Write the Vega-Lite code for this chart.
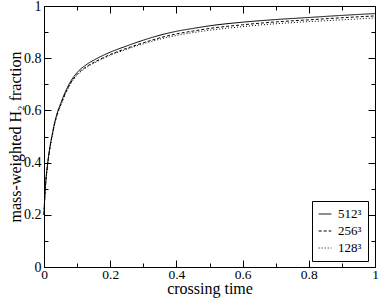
{
  "$schema": "https://vega.github.io/schema/vega-lite/v6.json",
  "width": 331,
  "height": 261,
  "autosize": {"type": "none"},
  "padding": {"left": 44, "top": 6, "right": 7, "bottom": 33},
  "background": "white",
  "data": {"values": [
    {"t": 0, "f": 0.20, "res": "512³"},
    {"t": 0.002, "f": 0.26, "res": "512³"},
    {"t": 0.005, "f": 0.32, "res": "512³"},
    {"t": 0.01, "f": 0.385, "res": "512³"},
    {"t": 0.015, "f": 0.435, "res": "512³"},
    {"t": 0.02, "f": 0.475, "res": "512³"},
    {"t": 0.026, "f": 0.515, "res": "512³"},
    {"t": 0.031, "f": 0.547, "res": "512³"},
    {"t": 0.04, "f": 0.59, "res": "512³"},
    {"t": 0.05, "f": 0.625, "res": "512³"},
    {"t": 0.056, "f": 0.645, "res": "512³"},
    {"t": 0.067, "f": 0.678, "res": "512³"},
    {"t": 0.08, "f": 0.71, "res": "512³"},
    {"t": 0.1, "f": 0.745, "res": "512³"},
    {"t": 0.13, "f": 0.777, "res": "512³"},
    {"t": 0.16, "f": 0.799, "res": "512³"},
    {"t": 0.2, "f": 0.823, "res": "512³"},
    {"t": 0.25, "f": 0.847, "res": "512³"},
    {"t": 0.3, "f": 0.869, "res": "512³"},
    {"t": 0.35, "f": 0.888, "res": "512³"},
    {"t": 0.4, "f": 0.903, "res": "512³"},
    {"t": 0.45, "f": 0.914, "res": "512³"},
    {"t": 0.5, "f": 0.924, "res": "512³"},
    {"t": 0.6, "f": 0.938, "res": "512³"},
    {"t": 0.7, "f": 0.948, "res": "512³"},
    {"t": 0.8, "f": 0.956, "res": "512³"},
    {"t": 0.9, "f": 0.964, "res": "512³"},
    {"t": 1.0, "f": 0.971, "res": "512³"},
    {"t": 0, "f": 0.20, "res": "256³"},
    {"t": 0.002, "f": 0.26, "res": "256³"},
    {"t": 0.005, "f": 0.32, "res": "256³"},
    {"t": 0.01, "f": 0.384, "res": "256³"},
    {"t": 0.015, "f": 0.433, "res": "256³"},
    {"t": 0.02, "f": 0.473, "res": "256³"},
    {"t": 0.026, "f": 0.512, "res": "256³"},
    {"t": 0.031, "f": 0.543, "res": "256³"},
    {"t": 0.04, "f": 0.586, "res": "256³"},
    {"t": 0.05, "f": 0.620, "res": "256³"},
    {"t": 0.056, "f": 0.640, "res": "256³"},
    {"t": 0.067, "f": 0.672, "res": "256³"},
    {"t": 0.08, "f": 0.704, "res": "256³"},
    {"t": 0.1, "f": 0.738, "res": "256³"},
    {"t": 0.13, "f": 0.769, "res": "256³"},
    {"t": 0.16, "f": 0.790, "res": "256³"},
    {"t": 0.2, "f": 0.814, "res": "256³"},
    {"t": 0.25, "f": 0.838, "res": "256³"},
    {"t": 0.3, "f": 0.859, "res": "256³"},
    {"t": 0.35, "f": 0.878, "res": "256³"},
    {"t": 0.4, "f": 0.893, "res": "256³"},
    {"t": 0.45, "f": 0.904, "res": "256³"},
    {"t": 0.5, "f": 0.914, "res": "256³"},
    {"t": 0.6, "f": 0.928, "res": "256³"},
    {"t": 0.7, "f": 0.939, "res": "256³"},
    {"t": 0.8, "f": 0.947, "res": "256³"},
    {"t": 0.9, "f": 0.955, "res": "256³"},
    {"t": 1.0, "f": 0.962, "res": "256³"},
    {"t": 0, "f": 0.20, "res": "128³"},
    {"t": 0.002, "f": 0.26, "res": "128³"},
    {"t": 0.005, "f": 0.319, "res": "128³"},
    {"t": 0.01, "f": 0.383, "res": "128³"},
    {"t": 0.015, "f": 0.432, "res": "128³"},
    {"t": 0.02, "f": 0.471, "res": "128³"},
    {"t": 0.026, "f": 0.510, "res": "128³"},
    {"t": 0.031, "f": 0.541, "res": "128³"},
    {"t": 0.04, "f": 0.583, "res": "128³"},
    {"t": 0.05, "f": 0.617, "res": "128³"},
    {"t": 0.056, "f": 0.637, "res": "128³"},
    {"t": 0.067, "f": 0.669, "res": "128³"},
    {"t": 0.08, "f": 0.701, "res": "128³"},
    {"t": 0.1, "f": 0.735, "res": "128³"},
    {"t": 0.13, "f": 0.766, "res": "128³"},
    {"t": 0.16, "f": 0.787, "res": "128³"},
    {"t": 0.2, "f": 0.811, "res": "128³"},
    {"t": 0.25, "f": 0.834, "res": "128³"},
    {"t": 0.3, "f": 0.855, "res": "128³"},
    {"t": 0.35, "f": 0.873, "res": "128³"},
    {"t": 0.4, "f": 0.887, "res": "128³"},
    {"t": 0.45, "f": 0.898, "res": "128³"},
    {"t": 0.5, "f": 0.907, "res": "128³"},
    {"t": 0.6, "f": 0.921, "res": "128³"},
    {"t": 0.7, "f": 0.932, "res": "128³"},
    {"t": 0.8, "f": 0.940, "res": "128³"},
    {"t": 0.9, "f": 0.947, "res": "128³"},
    {"t": 1.0, "f": 0.954, "res": "128³"}
  ]},
  "layer": [
    {
      "mark": {"type": "line", "color": "black", "strokeWidth": 1, "interpolate": "monotone"},
      "encoding": {
        "x": {"field": "t", "type": "quantitative", "scale": {"domain": [0, 1], "nice": false, "zero": false},
          "axis": {"orient": "bottom", "title": "crossing time", "values": [0,0.1,0.2,0.3,0.4,0.5,0.6,0.7,0.8,0.9,1],
            "format": ".1~f", "labelExpr": "round(datum.value*10)%2==0 ? datum.label : ''",
            "tickSize": {"condition": {"test": "round(datum.value*10)%2==0", "value": -7}, "value": -4},
            "labelFontSize": 13.5, "labelPadding": 7, "titlePadding": -3, "labelFlush": false, "labelOverlap": false}},
        "y": {"field": "f", "type": "quantitative", "scale": {"domain": [0, 1], "nice": false, "zero": false},
          "axis": {"orient": "left", "title": "mass-weighted H₂ fraction", "values": [0,0.1,0.2,0.3,0.4,0.5,0.6,0.7,0.8,0.9,1],
            "format": ".1~f", "labelExpr": "round(datum.value*10)%2==0 ? datum.label : ''",
            "tickSize": {"condition": {"test": "round(datum.value*10)%2==0", "value": -7}, "value": -4},
            "labelPadding": 10, "titlePadding": 0, "labelFlush": false, "labelOverlap": false}},
        "strokeDash": {"field": "res", "type": "nominal",
          "scale": {"domain": ["512³", "256³", "128³"], "range": [[1, 0], [3, 2], [1, 2]]},
          "legend": {"title": null, "orient": "none", "legendX": 268, "legendY": 195}}
      }
    },
    {
      "mark": {"type": "line", "opacity": 0},
      "encoding": {
        "x": {"field": "t", "type": "quantitative",
          "axis": {"orient": "top", "title": null, "labels": false, "values": [0,0.1,0.2,0.3,0.4,0.5,0.6,0.7,0.8,0.9,1],
            "tickSize": {"condition": {"test": "round(datum.value*10)%2==0", "value": -7}, "value": -4}}},
        "y": {"field": "f", "type": "quantitative",
          "axis": {"orient": "right", "title": null, "labels": false, "values": [0,0.1,0.2,0.3,0.4,0.5,0.6,0.7,0.8,0.9,1],
            "tickSize": {"condition": {"test": "round(datum.value*10)%2==0", "value": -7}, "value": -4}}},
        "detail": {"field": "res", "type": "nominal"}
      }
    }
  ],
  "resolve": {"axis": {"x": "independent", "y": "independent"}},
  "config": {
    "font": "Liberation Serif",
    "view": {"stroke": "black", "strokeWidth": 1},
    "axis": {"labelFont": "Liberation Serif", "titleFont": "Liberation Serif", "labelFontSize": 14, "titleFontSize": 16,
      "titleFontWeight": "normal", "labelColor": "black", "titleColor": "black", "domainColor": "black", "domainWidth": 1,
      "tickColor": "black", "tickWidth": 1, "grid": false},
    "legend": {"labelFont": "Liberation Serif", "labelFontSize": 13, "labelColor": "black", "symbolType": "stroke",
      "symbolStrokeColor": "black", "symbolStrokeWidth": 1, "symbolSize": 160, "strokeColor": "black", "strokeWidth": 1,
      "padding": 6, "rowPadding": 3, "labelOffset": 6}
  }
}
